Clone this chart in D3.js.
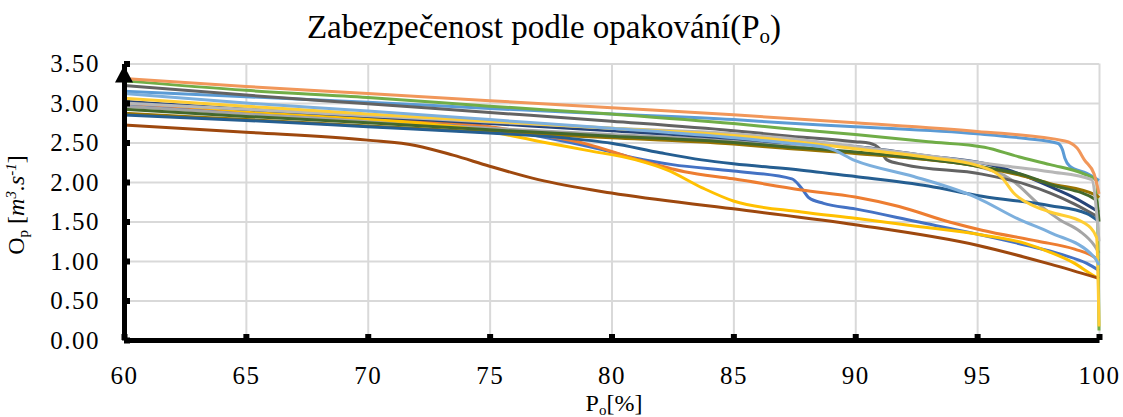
<!DOCTYPE html>
<html>
<head>
<meta charset="utf-8">
<script src="https://cdn.jsdelivr.net/npm/d3@7"></script>
<style>
body{margin:0;background:#fff;}
svg text{font-family:"Liberation Serif","Times New Roman",serif !important;fill:#000;}
</style>
</head>
<body>
<script>
// axis ticks
var xTicks = [60,65,70,75,80,85,90,95,100];
var yTicks = [0,0.5,1,1.5,2,2.5,3,3.5];

// series as [Po %, Op m3/s]
var sBlue = [[60,2.98],[65,2.88],[70,2.79],[75,2.69],[77.5,2.55],[79.6,2.41],[81,2.3],[82.5,2.22],[85,2.14],[87.4,2.04],[87.8,1.92],[88.1,1.8],[88.7,1.73],[90,1.66],[92.5,1.5],[95,1.34],[97,1.2],[98.5,1.08],[99.5,0.97],[100,0.88]];
var sOrange = [[60,3.0],[65,2.9],[70,2.81],[75,2.7],[77,2.6],[79,2.48],[81,2.29],[83,2.13],[85,2.04],[87.8,1.9],[90,1.81],[91.8,1.69],[93.9,1.49],[95.2,1.39],[97.5,1.25],[99,1.15],[99.8,1.05],[100,1.0]];
var sGray = [[60,2.96],[65,2.86],[70,2.77],[75,2.68],[80,2.6],[85,2.52],[90,2.37],[93,2.28],[95,2.2],[96.4,2.03],[97.6,1.7],[98.4,1.52],[99.2,1.38],[99.8,1.2],[100,1.1]];
var sGold = [[60,3.02],[65,2.9],[70,2.8],[75,2.64],[77.1,2.51],[79,2.4],[81,2.28],[82.3,2.15],[83.7,1.93],[85,1.76],[87.8,1.62],[90,1.54],[92.5,1.44],[95.2,1.33],[97,1.22],[98,1.11],[99,0.97],[99.7,0.83],[100,0.78]];
var sLightBlue = [[60,3.15],[65,3.08],[70,3.01],[75,2.93],[80,2.86],[85,2.79],[87,2.75],[90,2.7],[95,2.61],[97,2.55],[98.3,2.49],[98.5,2.41],[98.6,2.3],[98.8,2.2],[99.5,2.11],[100,2.02]];
var sGreen = [[60,3.28],[65,3.16],[70,3.07],[75,2.96],[80,2.86],[85,2.74],[87,2.68],[90,2.6],[93,2.51],[95.3,2.44],[96.7,2.32],[98,2.22],[99.4,2.1],[99.9,2.02],[100,0.12]];
var sDarkBlue = [[60,3.02],[65,2.92],[70,2.83],[75,2.74],[80,2.65],[85,2.55],[87,2.5],[90,2.45],[93,2.33],[95.2,2.24],[96,2.18],[97,2.07],[98,1.94],[99,1.8],[100,1.62]];
var sBrown = [[60,2.72],[65,2.63],[70,2.53],[72,2.46],[73.5,2.34],[75,2.2],[77,2.03],[80,1.86],[85,1.66],[90,1.46],[95,1.2],[98,0.96],[100,0.78]];
var sDarkGray = [[60,3.22],[65,3.1],[70,2.99],[75,2.88],[80,2.77],[85,2.65],[87,2.59],[90,2.51],[90.6,2.49],[91,2.42],[91.3,2.28],[92,2.22],[95.2,2.1],[97,1.97],[98,1.86],[99,1.72],[100,1.55]];
var sDarkGold = [[60,2.87],[65,2.79],[70,2.71],[75,2.63],[80,2.56],[85,2.48],[87,2.43],[90,2.36],[95,2.2],[96.7,2.09],[98,1.98],[99.9,1.83],[100,1.8]];
var sSteelBlue = [[60,2.85],[65,2.78],[70,2.7],[75,2.62],[78,2.56],[80,2.49],[82,2.37],[83.7,2.28],[85,2.23],[87.8,2.15],[90,2.07],[93,1.95],[95.2,1.82],[98,1.7],[99.5,1.6],[100,1.5]];
var sDarkGreen = [[60,2.92],[65,2.83],[70,2.75],[75,2.66],[80,2.58],[85,2.5],[87,2.45],[90,2.38],[95.2,2.19],[97,2.08],[98,1.97],[99.9,1.77],[100,1.5]];
var sLightOrange = [[60,3.31],[65,3.21],[70,3.12],[75,3.03],[80,2.94],[85,2.85],[90,2.75],[95,2.64],[98.6,2.52],[99.1,2.43],[99.4,2.28],[99.8,2.1],[100,1.85]];
var sLightGray = [[60,3.0],[65,2.92],[70,2.84],[75,2.76],[80,2.68],[85,2.61],[87,2.56],[90,2.45],[94,2.29],[96,2.21],[98,2.13],[99.7,2.03],[100,1.25]];
var sLightGold = [[60,3.06],[65,2.96],[70,2.86],[75,2.77],[80,2.68],[85,2.59],[87,2.53],[90,2.42],[93,2.31],[95,2.21],[96,2.06],[96.5,1.86],[97.3,1.7],[98,1.62],[99.4,1.48],[99.9,1.3],[100,0.17]];
var sPaleBlue = [[60,3.12],[65,3.0],[70,2.9],[75,2.79],[80,2.68],[85,2.56],[87,2.5],[88.9,2.43],[90,2.27],[92.4,2.07],[95,1.8],[96.7,1.53],[98,1.36],[99.8,1.05],[100,0.95]];

// excel palette order
var seriesData = [sBlue,sOrange,sGray,sGold,sLightBlue,sGreen,sDarkBlue,sBrown,sDarkGray,sDarkGold,sSteelBlue,sDarkGreen,sLightOrange,sLightGray,sLightGold,sPaleBlue];
var seriesColors = ["#4472C4","#ED7D31","#A5A5A5","#FFC000","#5B9BD5","#70AD47","#264478","#9E480E","#636363","#997300","#255E91","#43682B","#F1975A","#B7B7B7","#FFCD33","#7CAFDD"];

var serif = "'Liberation Serif','Times New Roman',serif";

var svg = d3.select("body").append("svg")
    .attr("width",1123).attr("height",417)
    .style("background","#fff");

var x = d3.scaleLinear().domain([60,100]).range([124,1099]);
var y = d3.scaleLinear().domain([0,3.5]).range([340,63.5]);

//gridlines
svg.append("g").attr("transform","translate(0,340)")
    .call(d3.axisBottom(x).tickValues(xTicks.slice(1)).tickSize(-(340-63.5)).tickFormat(""))
    .call(function(g){g.select(".domain").remove();g.selectAll("line").attr("stroke","#d9d9d9").attr("stroke-width",2);});
svg.append("g").attr("transform","translate(124,0)")
    .call(d3.axisLeft(y).tickValues(yTicks.slice(1)).tickSize(-(1099-124)).tickFormat(""))
    .call(function(g){g.select(".domain").remove();g.selectAll("line").attr("stroke","#d9d9d9").attr("stroke-width",2);});

//lines
var line = d3.line().x(function(d){return x(d[0]);}).y(function(d){return y(d[1]);}).curve(d3.curveMonotoneX);
svg.append("g").selectAll("path").data(seriesData).enter().append("path")
    .attr("d",line).attr("fill","none")
    .attr("stroke",function(d,i){return seriesColors[i];})
    .attr("stroke-width",3).attr("stroke-linejoin","round");

//axes
var xAxis = svg.append("g").attr("transform","translate(0,340)")
    .call(d3.axisBottom(x).tickValues(xTicks).tickSizeInner(-6).tickSizeOuter(0).tickPadding(26));
var yAxis = svg.append("g").attr("transform","translate(124,0)")
    .call(d3.axisLeft(y).tickValues(yTicks).tickSizeInner(-6).tickSizeOuter(0).tickPadding(24).tickFormat(d3.format(".2f")));
[xAxis,yAxis].forEach(function(g){
    g.attr("font-family",null).attr("font-size",null);
    g.select(".domain").attr("stroke","#000").attr("stroke-width",5);
    g.selectAll(".tick line").attr("stroke","#000").attr("stroke-width",6);
    g.selectAll("text").style("font-family",serif).style("font-size","25px").style("letter-spacing","1.5px").attr("fill","#000");
});

//arrow on y axis
svg.append("path")
    .attr("d","M"+x(60)+","+(y(3.5)+2)+"L"+(x(60)-9)+","+(y(3.5)+19)+"L"+(x(60)+9)+","+(y(3.5)+19)+"Z")
    .attr("fill","#000");

//title
var title = svg.append("text").attr("x",544).attr("y",38).attr("text-anchor","middle").style("font-family",serif).style("font-size","33px");
title.append("tspan").text("Zabezpečenost podle opakování(P");
title.append("tspan").text("o").style("font-size","21px").attr("dy",5);
title.append("tspan").text(")").attr("dy",-5);

//x label
var xl = svg.append("text").attr("x",614).attr("y",411).attr("text-anchor","middle").style("font-family",serif).style("font-size","24px");
xl.append("tspan").text("P");
xl.append("tspan").text("o").style("font-size","15px").attr("dy",4);
xl.append("tspan").text("[%]").attr("dy",-4);

//y label
var yl = svg.append("text").attr("transform","translate(24,205) rotate(-90)").attr("text-anchor","middle").style("font-family",serif).style("font-size","24px");
yl.append("tspan").text("O");
yl.append("tspan").text("p").style("font-size","15px").attr("dy",4);
yl.append("tspan").text(" [").attr("dy",-4);
yl.append("tspan").text("m").attr("font-style","italic");
yl.append("tspan").text("3").attr("font-style","italic").style("font-size","15px").attr("dy",-8);
yl.append("tspan").text(".s").attr("font-style","italic").attr("dy",8);
yl.append("tspan").text("-1").attr("font-style","italic").style("font-size","15px").attr("dy",-8);
yl.append("tspan").text("]").attr("dy",8);
</script>
</body>
</html>
